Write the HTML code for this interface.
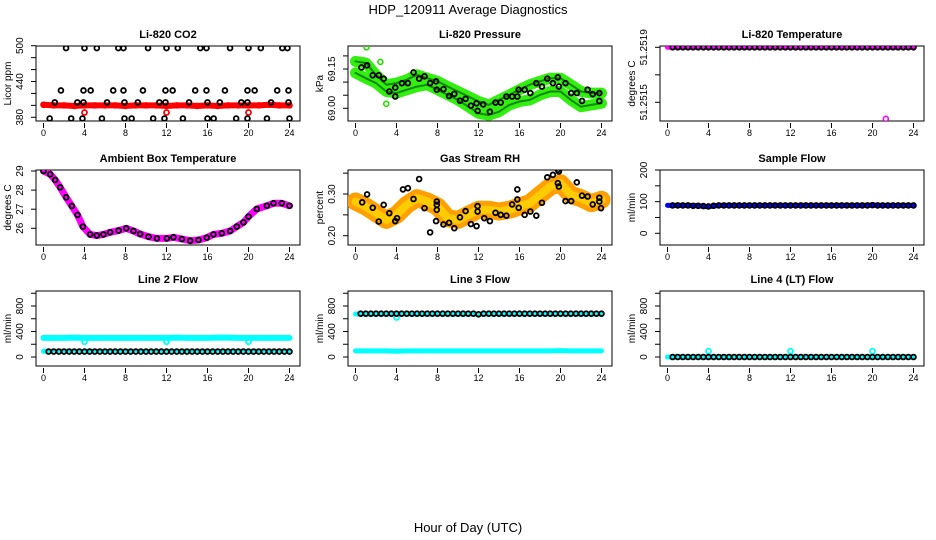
<!DOCTYPE html>
<html><head><meta charset="utf-8"><title>HDP_120911 Average Diagnostics</title>
<style>
html,body{margin:0;padding:0;background:#fff;width:936px;height:540px;overflow:hidden;}
svg{display:block;font-family:"Liberation Sans",Arial,sans-serif;}
</style></head>
<body>
<svg id="fig" width="936" height="540" viewBox="0 0 936 540" xmlns="http://www.w3.org/2000/svg">
<text x="468" y="14" text-anchor="middle" font-size="13">HDP_120911  Average Diagnostics</text>
<text x="468" y="532" text-anchor="middle" font-size="13">Hour of Day (UTC)</text>
</svg>
<script>
// ---------- data ----------
const xTicks = [0,4,8,12,16,20,24];
const hourly = [0,1,2,3,4,5,6,7,8,9,10,11,12,13,14,15,16,17,18,19,20,21,22,23,24];
const halfHours = [0.5,1,1.5,2,2.5,3,3.5,4,4.5,5,5.5,6,6.5,7,7.5,8,8.5,9,9.5,10,10.5,11,11.5,12,12.5,13,13.5,14,14.5,15,15.5,16,16.5,17,17.5,18,18.5,19,19.5,20,20.5,21,21.5,22,22.5,23,23.5,24];

// Li-820 CO2
const co2RedVals = [401,400,400,399,400,400,400,400,399,400,400,400,399,400,400,399,400,399,400,400,400,400,401,400,400];
const co2RedOutHours = [4,12,20];
const co2RedOutVals = [388,388,388];
const co2BlkHours = [2.2,4.0,5.2,7.3,7.8,10.2,12.0,13.1,15.3,15.9,18.2,20.0,21.2,23.3,23.8,
  1.7,3.9,4.6,6.8,7.8,9.7,11.9,12.6,14.8,15.9,17.7,19.9,20.6,22.8,23.9,
  1.1,3.3,3.9,6.2,7.9,9.2,11.3,11.9,14.2,16.0,17.2,19.3,19.9,22.2,23.9,
  0.6,2.7,3.8,5.7,7.9,8.6,10.7,11.8,13.6,16.0,16.6,18.8,19.9,21.8,24.0];
const co2BlkVals = [496,496,496,496,496,496,496,496,496,496,496,496,496,496,496,
  425,425,425,425,425,425,425,425,425,425,425,425,425,425,425,
  405,405,405,405,405,405,405,405,405,405,405,405,405,405,405,
  378,378,378,378,378,378,378,378,378,378,378,378,378,378,378];

// Li-820 Pressure
const presUpper = [69.179,69.173,69.128,69.090,69.096,69.109,69.128,69.115,69.103,69.083,69.064,69.045,69.026,69.013,69.032,69.051,69.071,69.090,69.103,69.115,69.115,69.090,69.064,69.058,69.058];
const presLower = [69.135,69.115,69.096,69.064,69.058,69.071,69.083,69.090,69.071,69.051,69.032,69.006,68.981,68.974,68.987,69.013,69.026,69.032,69.051,69.064,69.064,69.032,69.006,69.013,69.019];
const presOutHours = [1.07,2.43,3.0];
const presOutVals = [69.233,69.177,69.017];
const presBlkHours = [0.58,1.13,1.68,2.27,2.75,3.30,3.88,3.88,4.53,5.11,5.66,6.21,6.73,7.28,7.86,7.93,8.58,9.13,9.64,10.19,10.74,11.26,11.81,11.91,12.46,13.11,13.66,14.17,14.72,15.28,15.79,15.92,16.50,17.06,17.64,18.19,18.71,19.26,19.74,19.84,20.49,21.04,21.59,22.10,22.65,23.14,23.79,23.79];
const presBlkVals = [69.156,69.164,69.126,69.126,69.113,69.064,69.079,69.045,69.096,69.096,69.137,69.113,69.122,69.096,69.103,69.071,69.073,69.047,69.055,69.029,69.036,69.010,69.019,68.990,69.015,68.987,69.022,69.022,69.045,69.045,69.045,69.071,69.071,69.058,69.096,69.083,69.113,69.096,69.118,69.083,69.096,69.058,69.058,69.028,69.071,69.054,69.058,69.028];

// Li-820 Temperature
const tempMagVals = [51.2519,51.2519,51.2519,51.2519,51.2519,51.2519,51.2519,51.2519,51.2519,51.2519,51.2519,51.2519,51.2519,51.2519,51.2519,51.2519,51.2519,51.2519,51.2519,51.2519,51.2519,51.2519,51.2519,51.2519,51.2519];
const tempOutHours = [21.3];
const tempOutVals = [51.25138];
const tempBlkVals = [51.2519,51.2519,51.2519,51.2519,51.2519,51.2519,51.2519,51.2519,51.2519,51.2519,51.2519,51.2519,51.2519,51.2519,51.2519,51.2519,51.2519,51.2519,51.2519,51.2519,51.2519,51.2519,51.2519,51.2519,51.2519,51.2519,51.2519,51.2519,51.2519,51.2519,51.2519,51.2519,51.2519,51.2519,51.2519,51.2519,51.2519,51.2519,51.2519,51.2519,51.2519,51.2519,51.2519,51.2519,51.2519,51.2519,51.2519,51.2519];

// Ambient Box Temperature
const ambHours = [0,0.65,1.14,1.63,2.21,2.76,3.32,3.84,4.55,5.20,5.85,6.50,7.32,8.07,8.78,9.43,10.24,11.06,12.03,12.68,13.50,14.31,15.12,15.93,16.59,17.40,18.21,18.86,19.51,20.00,20.81,21.79,22.44,23.25,24.00];
const ambVals = [29.00,28.83,28.53,28.14,27.62,27.17,26.70,26.09,25.68,25.62,25.68,25.79,25.88,26.00,25.86,25.70,25.56,25.47,25.47,25.53,25.44,25.35,25.39,25.51,25.68,25.74,25.86,26.09,26.31,26.61,27.01,27.18,27.31,27.31,27.18];

// Gas Stream RH
const rhBand = [0.282,0.270,0.254,0.238,0.250,0.274,0.290,0.282,0.270,0.242,0.238,0.250,0.262,0.262,0.258,0.262,0.270,0.278,0.298,0.318,0.326,0.298,0.290,0.278,0.286];
const rhBlkHours = [0.65,1.13,1.68,2.27,2.75,3.30,3.88,4.05,4.63,5.11,5.66,6.21,6.73,7.28,7.86,7.93,7.93,7.93,8.58,9.13,9.64,10.19,10.74,11.26,11.81,11.91,11.91,12.56,13.11,13.66,14.17,14.72,15.28,15.79,15.79,15.92,16.50,17.06,17.64,18.19,18.71,19.26,19.74,19.84,19.74,19.84,20.49,21.04,21.59,22.10,22.65,23.14,23.79,23.79,23.95];
const rhBlkVals = [0.280,0.299,0.267,0.234,0.274,0.254,0.235,0.242,0.311,0.314,0.288,0.336,0.266,0.208,0.235,0.262,0.282,0.274,0.227,0.231,0.218,0.244,0.259,0.228,0.223,0.258,0.271,0.242,0.235,0.255,0.250,0.248,0.275,0.311,0.287,0.267,0.250,0.258,0.248,0.279,0.340,0.346,0.358,0.354,0.326,0.318,0.283,0.283,0.328,0.296,0.294,0.275,0.291,0.282,0.266];

// Sample Flow
const sampleBlue = [88,88,88,87,84,88,88,88,88,88,88,88,88,88,88,88,88,88,88,88,89,88,88,88,88];
const sampleBlk = [88,88,88,88,87,87,86,85,87,88,88,88,88,88,88,88,88,88,88,88,88,88,88,88,88,88,88,88,88,88,88,88,88,88,88,88,88,88,88,89,88,88,88,88,88,88,88,88];

// Line 2 Flow
const line2Cyan = [300,300,300,305,300,300,300,300,300,300,300,300,300,305,300,300,300,305,305,300,300,300,300,300,300];
const line2Low = [90,90,90,90,90,90,90,90,90,90,90,90,90,90,90,90,90,90,90,90,90,90,90,90,90];
const line2DipHours = [4,12,20];
const line2DipVals = [240,240,240];
const line2Blk = [85,85,85,85,85,85,85,85,85,85,85,85,85,85,85,85,85,85,85,85,85,85,85,85,85,85,85,85,85,85,85,85,85,85,85,85,85,85,85,85,85,85,85,85,85,85,85,85];

// Line 3 Flow
const line3Cyan = [675,675,675,675,675,675,675,675,675,675,675,675,675,675,675,675,675,675,675,675,675,675,675,675,675];
const line3Low = [95,95,95,95,90,95,95,95,95,95,95,95,95,95,95,95,95,95,95,95,100,95,95,95,95];
const line3DipHours = [4];
const line3DipVals = [620];
const line3Blk = [680,680,680,680,680,680,680,680,680,680,680,680,680,680,680,680,680,680,680,680,680,680,680,670,680,680,680,680,680,680,680,680,680,680,680,680,680,680,680,680,680,680,680,680,680,680,680,680];

// Line 4 (LT) Flow
const line4Cyan = [0,0,0,0,0,0,0,0,0,0,0,0,0,0,0,0,0,0,0,0,0,0,0,0,0];
const line4OutHours = [4,12,20];
const line4OutVals = [90,90,90];
const line4Blk = [0,0,0,0,0,0,0,0,0,0,0,0,0,0,0,0,0,0,0,0,0,0,0,0,0,0,0,0,0,0,0,0,0,0,0,0,0,0,0,0,0,0,0,0,0,0,0,0];

// ---------- drawing ----------
const NS = "http://www.w3.org/2000/svg";
const svg = document.getElementById("fig");
const colLeft = [36,348,660], rowTop = [46,170,291], BW = 264, BH = 75;

function mk(tag, attrs, parent){
  const e = document.createElementNS(NS, tag);
  for (const k in attrs) e.setAttribute(k, attrs[k]);
  (parent||svg).appendChild(e);
  return e;
}

function makePanel(col, row, name, title, ylab, v1, p1, v2, p2, ticks, labels){
  const L = colLeft[col], T = rowTop[row];
  const g = mk("g", {});
  
  
  const xs = h => L + 7.5 + h * 10.25;
  const ys = v => p1 + (v - v1) * (p2 - p1) / (v2 - v1);
  const t = mk("text", {x: L + BW/2, y: T - 8, "text-anchor": "middle", "font-size": "11", "font-weight": "bold"}, g);
  t.textContent = title;
  
  
  const box = mk("rect", {x: L, y: T, width: BW, height: BH, fill: "none", stroke: "#000", "stroke-width": "1"}, g);
  
  
  const xa = mk("g", {}, g);
  
  
  xTicks.forEach(h => {
    mk("line", {x1: xs(h), x2: xs(h), y1: T + BH + 2, y2: T + BH + 7, stroke: "#000"}, xa);
    const lb = mk("text", {x: xs(h), y: T + BH + 15, "text-anchor": "middle", "font-size": "9"}, xa);
    lb.textContent = h;
    
    
  });
  const ya = mk("g", {}, g);
  
  
  ticks.forEach(v => mk("line", {x1: L - 5, x2: L, y1: ys(v), y2: ys(v), stroke: "#000"}, ya));
  labels.forEach(v => {
    const y = ys(v), x = L - 13;
    const lb = mk("text", {x: x, y: y, "text-anchor": "middle", "font-size": "10", transform: `rotate(-90 ${x} ${y})`}, ya);
    lb.textContent = typeof v === "number" ? String(v) : v;
    
    
  });
  const yl = mk("text", {x: L - 25, y: T + BH/2, "text-anchor": "middle", "font-size": "10", transform: `rotate(-90 ${L-25} ${T+BH/2})`}, g);
  yl.textContent = ylab;
  
  
  const clipId = "clip-" + name;
  const cp = mk("clipPath", {id: clipId}, g);
  mk("rect", {x: L, y: T, width: BW, height: BH}, cp);
  const plot = mk("g", {"clip-path": `url(#${clipId})`}, g);
  
  
  return {xs, ys, g: plot};
}

function band(p, hours, vals, color, width, name){
  const pts = hours.map((h, i) => p.xs(h).toFixed(1) + "," + p.ys(vals[i]).toFixed(1)).join(" ");
  const pl = mk("polyline", {points: pts, fill: "none", stroke: color, "stroke-width": width, "stroke-linejoin": "round", "stroke-linecap": "round"}, p.g);
  
  
}
function points(p, hours, vals, color, name, r, sw){
  const grp = mk("g", {}, p.g);
  
  
  hours.forEach((h, i) => {
    const c = mk("circle", {cx: p.xs(h), cy: p.ys(vals[i]), r: r || 2.4, fill: "none", stroke: color, "stroke-width": sw || 1.8}, grp);
    
    
  });
}

let p = makePanel(0, 0, "co2", "Li-820 CO2", "Licor ppm", 380, 117.3, 500, 45.7, [380,400,420,440,460,480,500], [380,440,500]);
band(p, hourly, co2RedVals, "#ff0000", 6, "co2-red-series");
points(p, hourly, co2RedVals, "#ff0000", "co2-red-markers");
points(p, co2RedOutHours, co2RedOutVals, "#ff0000", "co2-red-outliers", 2.5, 1.8);
points(p, co2BlkHours, co2BlkVals, "#000", "co2-black-series");

p = makePanel(1, 0, "pressure", "Li-820 Pressure", "kPa", 69.0, 108.3, 69.15, 69, [69.0,69.05,69.1,69.15,69.2], ["69.00","69.15"]);
band(p, hourly, presUpper, "#33ee11", 11, "pressure-green-upper");
band(p, hourly, presLower, "#33ee11", 11, "pressure-green-lower");
band(p, hourly, presUpper, "#118800", 2, "pressure-green-upper-core");
band(p, hourly, presLower, "#118800", 2, "pressure-green-lower-core");
points(p, presOutHours, presOutVals, "#22dd00", "pressure-green-outliers", 2.5, 1.6);
points(p, presBlkHours, presBlkVals, "#000", "pressure-black-series");

p = makePanel(2, 0, "li820-temp", "Li-820 Temperature", "degrees C", 51.2519, 47.3, 51.2515, 102.3, [51.2519,51.2517,51.2515], ["51.2519","51","51.2515"]);
band(p, hourly, tempMagVals, "#ff00ff", 5, "li820-temp-magenta-series");
points(p, tempOutHours, tempOutVals, "#ff00ff", "li820-temp-outlier", 2.5, 1.6);
points(p, halfHours, tempBlkVals, "#000", "li820-temp-black-series");

p = makePanel(0, 1, "ambient", "Ambient Box Temperature", "degrees C", 29, 171, 26, 228.3, [26,27,28,29], [26,27,28,29]);
band(p, ambHours, ambVals, "#ff00ff", 7, "ambient-magenta-series");
points(p, ambHours, ambVals, "#000", "ambient-black-series");

p = makePanel(1, 1, "rh", "Gas Stream RH", "percent", 0.30, 194, 0.20, 235.7, [0.20,0.25,0.30,0.35], ["0.20","0.30"]);
band(p, hourly, rhBand, "#ffa000", 18, "rh-orange-series");
band(p, hourly, rhBand, "#ffcc00", 8, "rh-yellow-core");
points(p, rhBlkHours, rhBlkVals, "#000", "rh-black-series");

p = makePanel(2, 1, "sample-flow", "Sample Flow", "ml/min", 200, 170, 0, 233.3, [0,50,100,150,200], [0,100,200]);
band(p, hourly, sampleBlue, "#0000ff", 5, "sample-flow-blue-series");
points(p, halfHours, sampleBlk, "#000", "sample-flow-black-series");

const flowTicks = [0,200,400,600,800,1000], flowLabels = [0,400,800];
p = makePanel(0, 2, "line2", "Line 2 Flow", "ml/min", 0, 357, 800, 306, flowTicks, flowLabels);
band(p, hourly, line2Cyan, "#00ffff", 6, "line2-cyan-upper");
band(p, hourly, line2Low, "#00ffff", 5, "line2-cyan-lower");
points(p, line2DipHours, line2DipVals, "#00ffff", "line2-cyan-dips", 2.5, 1.8);
points(p, halfHours, line2Blk, "#000", "line2-black-series");

p = makePanel(1, 2, "line3", "Line 3 Flow", "ml/min", 0, 357, 800, 306, flowTicks, flowLabels);
band(p, hourly, line3Cyan, "#00ffff", 5, "line3-cyan-upper");
band(p, hourly, line3Low, "#00ffff", 5, "line3-cyan-lower");
points(p, line3DipHours, line3DipVals, "#00ffff", "line3-cyan-dip", 2.5, 1.8);
points(p, halfHours, line3Blk, "#000", "line3-black-series");

p = makePanel(2, 2, "line4", "Line 4 (LT) Flow", "ml/min", 0, 357, 800, 306, flowTicks, flowLabels);
band(p, hourly, line4Cyan, "#00ffff", 5, "line4-cyan-series");
points(p, line4OutHours, line4OutVals, "#00ffff", "line4-cyan-outliers", 2.5, 1.8);
points(p, halfHours, line4Blk, "#000", "line4-black-series");
</script>
</body></html>
